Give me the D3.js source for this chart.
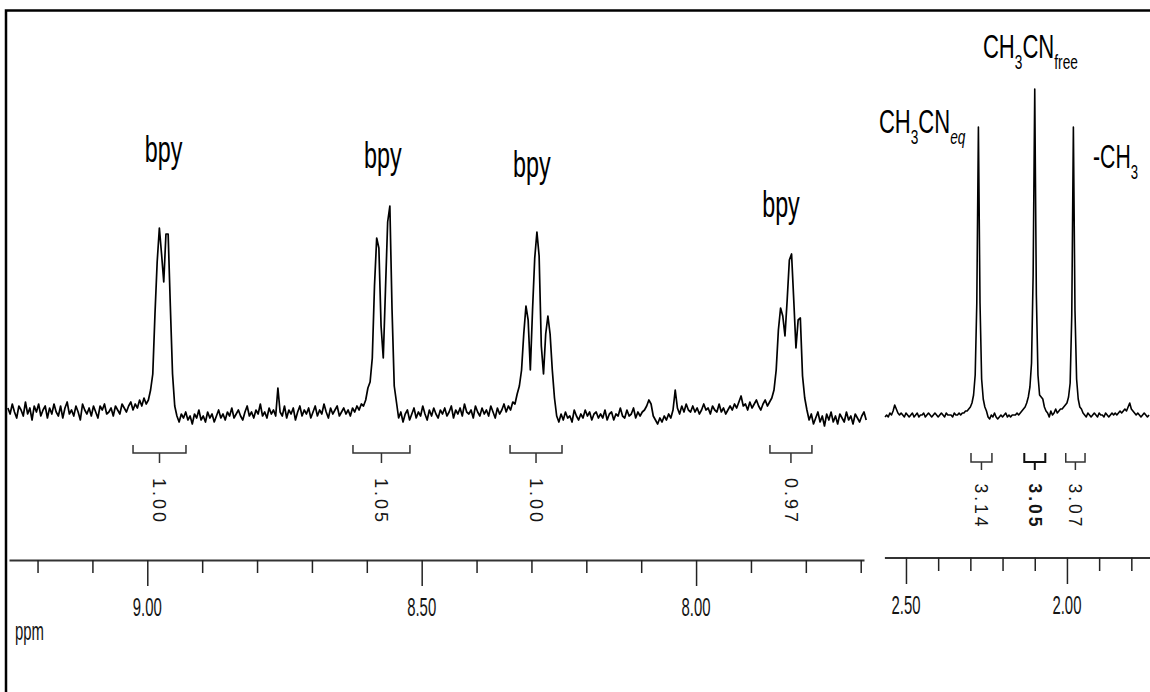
<!DOCTYPE html>
<html>
<head>
<meta charset="utf-8">
<script src="https://cdn.jsdelivr.net/npm/d3@7"></script>
<style>
  html, body { margin: 0; padding: 0; background: #fff; }
  svg { display: block; }
</style>
</head>
<body>
<svg id="chart" width="1150" height="692"></svg>
<script>
// ---------------- DATA ----------------
// Left panel (aromatic region): evenly sampled trace, intensity in arbitrary units
const leftStartPpm = 9.254;
const leftStepPpm = 0.004;
const leftIntensity = [
  1,-2,3,-1,-4,2,0,-3,4,-2,1,-5,2,-1,3,-3,0,2,-4,1,
  -2,3,-1,-3,2,-4,1,4,-2,0,-3,2,-1,-5,3,0,-2,1,-3,2,
  -1,-4,2,0,3,-2,-1,1,-3,2,0,-2,3,1,-1,2,4,0,3,1,
  5,2,6,3,5,
  10,18,48,74,91,78,64,88,88,52,18,2,
  -3,-6,-2,-4,-1,-5,-3,-7,-2,-4,0,-5,-3,-6,-1,-4,-2,-6,-3,0,
  -4,-2,-5,-1,-3,1,-4,-2,0,-3,-5,-1,2,-3,-1,-4,0,-2,3,-3,
  -1,-4,1,-2,0,-3,11,-1,-3,2,-4,0,-2,1,-5,-1,2,-3,0,-2,
  1,-4,-1,2,-3,0,-2,3,-1,-4,1,-2,0,2,-3,-1,1,-2,0,-3,
  1,-1,2,0,3,2,5,
  11,14,26,62,86,81,42,26,60,94,102,50,12,4,
  -4,-1,-6,-2,0,-5,-2,1,-4,-1,-3,2,-2,-5,0,-3,1,-2,-4,0,
  -2,1,-3,-1,2,-4,0,-2,1,-3,3,-1,-2,0,-4,2,-1,-3,1,-2,
  0,-3,2,-1,-4,1,-2,0,3,-1,2,0,4,3,
  8,12,20,38,52,45,20,50,76,89,77,32,18,38,47,38,20,6,
  -3,-6,-2,-5,-1,-4,-3,-6,0,-3,-5,-2,-4,0,-3,-1,-5,-2,-1,-4,
  -2,-4,0,-5,-2,-1,-5,-2,-3,1,-3,-4,0,-3,-2,1,-4,-1,-3,-1,
  0,2,5,3,-3,-5,-7,-4,-6,-3,-5,-2,-4,0,10,1,-2,2,-1,3,
  0,-1,2,-1,1,-2,0,3,0,1,-2,2,0,-1,3,-1,1,-2,0,2,
  0,3,1,4,7,2,3,0,4,1,3,5,2,0,3,5,2,4,6,
  10,20,40,51,47,37,55,75,78,55,31,45,46,17,6,0,
  -5,-2,-7,-4,-1,-6,-3,-8,-2,-5,-1,-6,-3,-7,-2,-4,-6,-1,-5,-3,-7,-2,-4,-6,-3,-1,-5
];

// Right panel (aliphatic region)
const rightStartPpm = 2.565;
const rightStepPpm = 0.005;
const rightIntensity = [
  -1,0,-1,1,0,2,
  5,3,1,0,1,
  0,-1,1,0,-1,0,1,-1,0,1,-1,0,0,1,-1,0,1,0,-1,0,1,0,-1,0,1,0,-1,1,0,0,
  0,-1,1,0,0,1,0,1,1,2,2,3,
  4,6,10,20,56,144,56,18,8,4,2,
  -1,-2,0,-1,1,-1,-2,-1,0,-1,0,1,-1,0,-1,0,0,
  0,1,0,1,2,3,4,
  6,9,14,26,70,163,60,20,10,9,8,4,2,
  1,-1,2,0,1,3,1,2,3,3,
  4,5,6,9,16,50,144,52,18,8,4,3,1,
  0,-1,1,0,-1,0,1,0,-1,1,0,0,-1,1,0,-1,0,1,0,1,
  0,1,2,1,2,3,2,
  4,6,3,2,1,
  0,1,0,-1,0,1,0,-1,0
];

// Axis ticks
const leftMajorTicks = [9.0, 8.5, 8.0];
const leftTickLabels = ["9.00", "8.50", "8.00"];
const leftMinorTicks = [9.2, 9.1, 8.9, 8.8, 8.7, 8.6, 8.4, 8.3, 8.2, 8.1, 7.9, 7.8, 7.7];
const rightMajorTicks = [2.5, 2.0];
const rightTickLabels = ["2.50", "2.00"];
const rightMinorTicks = [2.4, 2.3, 2.2, 2.1, 1.9, 1.8];
const axisUnit = "ppm";

// Peak labels (left panel)
const peakLabelText = ["bpy", "bpy", "bpy", "bpy"];
const peakLabelPpm = [8.970, 8.5705, 8.299, 7.845];
const peakLabelLevel = [124, 121, 116.5, 96.5];

// Right-panel assignment labels: [text, subscript?, italic?]
const assignParts = [
  [["CH", false], ["3", true], ["CN", false], ["eq", true, true]],
  [["CH", false], ["3", true], ["CN", false], ["free", true]],
  [["-CH", false], ["3", true]]
];
const assignPpm = [2.584, 2.261, 1.919];
const assignLevel = [141, 178.5, 123.5];

// Integrals
const leftIntegralValues = ["1.00", "1.05", "1.00", "0.97"];
const leftIntegralRanges = [[9.026, 8.9295], [8.6252, 8.5214], [8.339, 8.2443], [7.8654, 7.7889]];
const rightIntegralValues = ["3.14", "3.05", "3.07"];
const rightIntegralRanges = [[2.298, 2.233], [2.1325, 2.0672], [2.0037, 1.9438]];

// ---------------- DRAWING ----------------
const W = 1150, H = 692;
const FONT = "'Liberation Sans', Arial, Helvetica, sans-serif";
const svg = d3.select("#chart");

svg.append("rect").attr("width", W).attr("height", H).attr("fill", "#fff");
// frame (only top/left visible)
svg.append("rect").attr("x", 6).attr("y", 10.5).attr("width", 1400).attr("height", 1000)
  .attr("fill", "none").attr("stroke", "#000").attr("stroke-width", 2.5);

const xL = d3.scaleLinear().domain([9.252, 7.694]).range([9, 864]);
const xR = d3.scaleLinear().domain([2.567, 1.742]).range([884.4, 1150]);
const yL = d3.scaleLinear().domain([0, 100]).range([410, 210]);
const yR = d3.scaleLinear().domain([0, 100]).range([415, 215]);

// traces
const leftPts = leftIntensity.map((v, i) => [leftStartPpm - i * leftStepPpm, v]);
const rightPts = rightIntensity.map((v, i) => [rightStartPpm - i * rightStepPpm, v]);

svg.append("path").datum(leftPts)
  .attr("d", d3.line().x(d => xL(d[0])).y(d => yL(d[1])))
  .attr("fill", "none").attr("stroke", "#000").attr("stroke-width", 1.7).attr("stroke-linejoin", "round");
svg.append("path").datum(rightPts)
  .attr("d", d3.line().x(d => xR(d[0])).y(d => yR(d[1])))
  .attr("fill", "none").attr("stroke", "#000").attr("stroke-width", 1.6).attr("stroke-linejoin", "round");

// axes
function drawAxis(scale, yPos, minor, major, minorLen, majorLen) {
  const g1 = svg.append("g").attr("transform", `translate(0,${yPos})`)
    .call(d3.axisBottom(scale).tickValues(minor).tickSize(minorLen).tickSizeOuter(0).tickFormat(""));
  g1.select(".domain").attr("stroke", "#333").attr("stroke-width", 2.2);
  g1.selectAll(".tick line").attr("stroke", "#222").attr("stroke-width", 1.5);
  const g2 = svg.append("g").attr("transform", `translate(0,${yPos})`)
    .call(d3.axisBottom(scale).tickValues(major).tickSize(majorLen).tickSizeOuter(0).tickFormat(""));
  g2.select(".domain").remove();
  g2.selectAll(".tick line").attr("stroke", "#222").attr("stroke-width", 1.5);
}
drawAxis(xL, 560, leftMinorTicks, leftMajorTicks, 13, 26);
drawAxis(xR, 557.5, rightMinorTicks, rightMajorTicks, 13.5, 26.5);

// fitted (condensed) text helper
function fitText(x, y, parts, fs, targetW, anchor, opts = {}) {
  const t = svg.append("text").attr("font-family", FONT).attr("font-size", fs)
    .attr("fill", opts.fill || "#000");
  const shift = opts.subShift || 11;
  let down = false;
  parts.forEach(p => {
    const ts = t.append("tspan").text(p[0]);
    if (p[1]) {
      ts.attr("font-size", fs * 0.62);
      if (!down) { ts.attr("dy", shift); down = true; }
      if (p[2]) ts.attr("font-style", "italic");
    } else if (down) {
      ts.attr("dy", -shift); down = false;
    }
  });
  const bb = t.node().getBBox();
  const s = targetW / bb.width;
  const x0 = anchor === "middle" ? x - targetW / 2 : x;
  t.attr("transform", `translate(${x0 - bb.x * s},${y}) scale(${s},1)`);
  return t;
}

// tick labels
leftMajorTicks.forEach((v, i) => fitText(xL(v), 616, [[leftTickLabels[i], false]], 26.5, 29, "middle", { fill: "#151515" }));
rightMajorTicks.forEach((v, i) => fitText(xR(v), 614, [[rightTickLabels[i], false]], 26.5, 29, "middle", { fill: "#151515" }));
fitText(15, 640, [[axisUnit, false]], 26.5, 29, "start", { fill: "#151515" });

// peak labels
peakLabelText.forEach((s, i) => fitText(xL(peakLabelPpm[i]), yL(peakLabelLevel[i]), [[s, false]], 37, 38, "middle"));

// assignment labels
const assignWidths = [87, 95, 45];
assignParts.forEach((parts, i) => fitText(xR(assignPpm[i]), yR(assignLevel[i]), parts, 32.5, assignWidths[i], "start", { subShift: 11 }));

// integrals
function integral(scale, range, label, top, bar, bottom, labelY, fs, len, bold) {
  const x1 = scale(range[0]), x2 = scale(range[1]), cx = (x1 + x2) / 2;
  svg.append("path")
    .attr("d", `M${x1},${top}V${bar}H${x2}V${top}M${cx},${bar}V${bottom}`)
    .attr("fill", "none").attr("stroke", bold ? "#111" : "#333").attr("stroke-width", bold ? 2 : 1.5);
  svg.append("text")
    .attr("transform", `translate(${cx},${labelY}) rotate(90)`)
    .attr("text-anchor", "middle").attr("dy", "0.35em")
    .attr("font-family", FONT).attr("font-size", fs)
    .attr("font-weight", bold ? "bold" : "normal")
    .attr("fill", "#151515")
    .attr("textLength", len).attr("lengthAdjust", "spacing")
    .text(label);
}
leftIntegralValues.forEach((v, i) => integral(xL, leftIntegralRanges[i], v, 445, 453, 463, 500, 18, 44, false));
rightIntegralValues.forEach((v, i) => integral(xR, rightIntegralRanges[i], v, 453, 462, 470, 505, 17.5, 43, i === 1));
</script>
</body>
</html>
